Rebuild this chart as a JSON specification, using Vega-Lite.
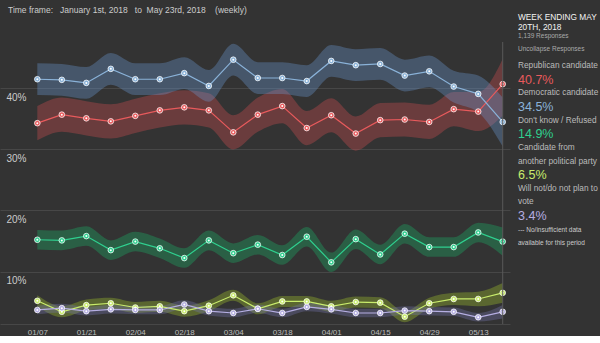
{
 "$schema": "https://vega.github.io/schema/vega-lite/v6.json",
 "background": "#333333",
 "padding": {"top": 6, "left": 0, "right": 0, "bottom": 0},
 "spacing": 8,
 "config": {"view": {"stroke": null}, "font": "Liberation Sans"},
 "datasets": {
  "poll": [
   {"d":"2018-01-07T00:00","s":"rep","v":34.3,"lo":31.5,"hi":37.1},
   {"d":"2018-01-14T00:00","s":"rep","v":35.7,"lo":32.9,"hi":38.5},
   {"d":"2018-01-21T00:00","s":"rep","v":35.1,"lo":32.3,"hi":37.9},
   {"d":"2018-01-28T00:00","s":"rep","v":34.6,"lo":31.8,"hi":37.4},
   {"d":"2018-02-04T00:00","s":"rep","v":35.5,"lo":32.7,"hi":38.3},
   {"d":"2018-02-11T00:00","s":"rep","v":36.4,"lo":33.6,"hi":39.2},
   {"d":"2018-02-18T00:00","s":"rep","v":36.9,"lo":34.1,"hi":39.7},
   {"d":"2018-02-25T00:00","s":"rep","v":36.4,"lo":33.6,"hi":39.2},
   {"d":"2018-03-04T00:00","s":"rep","v":32.8,"lo":30.0,"hi":35.6},
   {"d":"2018-03-11T00:00","s":"rep","v":35.7,"lo":32.9,"hi":38.5},
   {"d":"2018-03-18T00:00","s":"rep","v":37.1,"lo":34.3,"hi":39.9},
   {"d":"2018-03-25T00:00","s":"rep","v":33.5,"lo":30.7,"hi":36.3},
   {"d":"2018-04-01T00:00","s":"rep","v":35.6,"lo":32.8,"hi":38.4},
   {"d":"2018-04-08T00:00","s":"rep","v":32.6,"lo":29.8,"hi":35.4},
   {"d":"2018-04-15T00:00","s":"rep","v":34.8,"lo":32.0,"hi":37.6},
   {"d":"2018-04-22T00:00","s":"rep","v":34.9,"lo":32.1,"hi":37.7},
   {"d":"2018-04-29T00:00","s":"rep","v":34.5,"lo":31.7,"hi":37.3},
   {"d":"2018-05-06T00:00","s":"rep","v":36.6,"lo":33.8,"hi":39.4},
   {"d":"2018-05-13T00:00","s":"rep","v":36.2,"lo":33.0,"hi":39.4},
   {"d":"2018-05-20T00:00","s":"rep","v":40.7,"lo":35.5,"hi":44.8},
   {"d":"2018-01-07T00:00","s":"dem","v":41.5,"lo":38.9,"hi":44.1},
   {"d":"2018-01-14T00:00","s":"dem","v":41.4,"lo":38.8,"hi":44.0},
   {"d":"2018-01-21T00:00","s":"dem","v":40.9,"lo":38.3,"hi":43.5},
   {"d":"2018-01-28T00:00","s":"dem","v":43.2,"lo":40.6,"hi":45.8},
   {"d":"2018-02-04T00:00","s":"dem","v":41.5,"lo":38.9,"hi":44.1},
   {"d":"2018-02-11T00:00","s":"dem","v":41.5,"lo":38.9,"hi":44.1},
   {"d":"2018-02-18T00:00","s":"dem","v":42.5,"lo":39.9,"hi":45.1},
   {"d":"2018-02-25T00:00","s":"dem","v":40.4,"lo":37.8,"hi":43.0},
   {"d":"2018-03-04T00:00","s":"dem","v":44.7,"lo":42.1,"hi":47.3},
   {"d":"2018-03-11T00:00","s":"dem","v":41.7,"lo":39.1,"hi":44.3},
   {"d":"2018-03-18T00:00","s":"dem","v":41.7,"lo":39.1,"hi":44.3},
   {"d":"2018-03-25T00:00","s":"dem","v":41.2,"lo":38.6,"hi":43.8},
   {"d":"2018-04-01T00:00","s":"dem","v":44.5,"lo":41.9,"hi":47.1},
   {"d":"2018-04-08T00:00","s":"dem","v":43.8,"lo":41.2,"hi":46.4},
   {"d":"2018-04-15T00:00","s":"dem","v":44.0,"lo":41.4,"hi":46.6},
   {"d":"2018-04-22T00:00","s":"dem","v":42.1,"lo":39.5,"hi":44.7},
   {"d":"2018-04-29T00:00","s":"dem","v":42.8,"lo":40.2,"hi":45.4},
   {"d":"2018-05-06T00:00","s":"dem","v":40.3,"lo":37.7,"hi":42.9},
   {"d":"2018-05-13T00:00","s":"dem","v":39.1,"lo":36.1,"hi":42.1},
   {"d":"2018-05-20T00:00","s":"dem","v":34.5,"lo":30.5,"hi":38.5},
   {"d":"2018-01-07T00:00","s":"dk","v":15.2,"lo":13.6,"hi":16.8},
   {"d":"2018-01-14T00:00","s":"dk","v":15.1,"lo":13.5,"hi":16.7},
   {"d":"2018-01-21T00:00","s":"dk","v":15.8,"lo":14.2,"hi":17.4},
   {"d":"2018-01-28T00:00","s":"dk","v":13.5,"lo":11.9,"hi":15.1},
   {"d":"2018-02-04T00:00","s":"dk","v":14.9,"lo":13.3,"hi":16.5},
   {"d":"2018-02-11T00:00","s":"dk","v":13.8,"lo":12.2,"hi":15.4},
   {"d":"2018-02-18T00:00","s":"dk","v":12.2,"lo":10.6,"hi":13.8},
   {"d":"2018-02-25T00:00","s":"dk","v":15.1,"lo":13.5,"hi":16.7},
   {"d":"2018-03-04T00:00","s":"dk","v":13.0,"lo":11.4,"hi":14.6},
   {"d":"2018-03-11T00:00","s":"dk","v":14.4,"lo":12.8,"hi":16.0},
   {"d":"2018-03-18T00:00","s":"dk","v":12.7,"lo":11.1,"hi":14.3},
   {"d":"2018-03-25T00:00","s":"dk","v":15.7,"lo":14.1,"hi":17.3},
   {"d":"2018-04-01T00:00","s":"dk","v":11.5,"lo":9.9,"hi":13.1},
   {"d":"2018-04-08T00:00","s":"dk","v":15.3,"lo":13.7,"hi":16.9},
   {"d":"2018-04-15T00:00","s":"dk","v":12.8,"lo":11.2,"hi":14.4},
   {"d":"2018-04-22T00:00","s":"dk","v":16.2,"lo":14.6,"hi":17.8},
   {"d":"2018-04-29T00:00","s":"dk","v":14.0,"lo":12.4,"hi":15.6},
   {"d":"2018-05-06T00:00","s":"dk","v":14.0,"lo":12.4,"hi":15.6},
   {"d":"2018-05-13T00:00","s":"dk","v":16.4,"lo":14.8,"hi":18.0},
   {"d":"2018-05-20T00:00","s":"dk","v":14.9,"lo":12.6,"hi":17.2},
   {"d":"2018-01-07T00:00","s":"other","v":5.2,"lo":4.3,"hi":6.1},
   {"d":"2018-01-14T00:00","s":"other","v":3.4,"lo":2.5,"hi":4.3},
   {"d":"2018-01-21T00:00","s":"other","v":4.5,"lo":3.6,"hi":5.4},
   {"d":"2018-01-28T00:00","s":"other","v":4.8,"lo":3.9,"hi":5.7},
   {"d":"2018-02-04T00:00","s":"other","v":4.1,"lo":3.2,"hi":5.0},
   {"d":"2018-02-11T00:00","s":"other","v":4.3,"lo":3.4,"hi":5.2},
   {"d":"2018-02-18T00:00","s":"other","v":3.5,"lo":2.6,"hi":4.4},
   {"d":"2018-02-25T00:00","s":"other","v":4.4,"lo":3.5,"hi":5.3},
   {"d":"2018-03-04T00:00","s":"other","v":6.1,"lo":5.2,"hi":7.0},
   {"d":"2018-03-11T00:00","s":"other","v":3.9,"lo":3.0,"hi":4.8},
   {"d":"2018-03-18T00:00","s":"other","v":5.1,"lo":4.2,"hi":6.0},
   {"d":"2018-03-25T00:00","s":"other","v":5.1,"lo":4.2,"hi":6.0},
   {"d":"2018-04-01T00:00","s":"other","v":4.3,"lo":3.4,"hi":5.2},
   {"d":"2018-04-08T00:00","s":"other","v":5.0,"lo":4.1,"hi":5.9},
   {"d":"2018-04-15T00:00","s":"other","v":4.9,"lo":4.0,"hi":5.8},
   {"d":"2018-04-22T00:00","s":"other","v":2.6,"lo":1.7,"hi":3.5},
   {"d":"2018-04-29T00:00","s":"other","v":4.8,"lo":3.9,"hi":5.7},
   {"d":"2018-05-06T00:00","s":"other","v":5.5,"lo":4.5,"hi":6.5},
   {"d":"2018-05-13T00:00","s":"other","v":5.5,"lo":4.3,"hi":6.7},
   {"d":"2018-05-20T00:00","s":"other","v":6.5,"lo":4.9,"hi":8.1},
   {"d":"2018-01-07T00:00","s":"wont","v":3.7,"lo":3.0,"hi":4.4},
   {"d":"2018-01-14T00:00","s":"wont","v":4.0,"lo":3.3,"hi":4.7},
   {"d":"2018-01-21T00:00","s":"wont","v":3.5,"lo":2.8,"hi":4.2},
   {"d":"2018-01-28T00:00","s":"wont","v":3.8,"lo":3.1,"hi":4.5},
   {"d":"2018-02-04T00:00","s":"wont","v":3.7,"lo":3.0,"hi":4.4},
   {"d":"2018-02-11T00:00","s":"wont","v":3.7,"lo":3.0,"hi":4.4},
   {"d":"2018-02-18T00:00","s":"wont","v":4.6,"lo":3.9,"hi":5.3},
   {"d":"2018-02-25T00:00","s":"wont","v":3.5,"lo":2.8,"hi":4.2},
   {"d":"2018-03-04T00:00","s":"wont","v":3.2,"lo":2.5,"hi":3.9},
   {"d":"2018-03-11T00:00","s":"wont","v":3.9,"lo":3.2,"hi":4.6},
   {"d":"2018-03-18T00:00","s":"wont","v":3.2,"lo":2.5,"hi":3.9},
   {"d":"2018-03-25T00:00","s":"wont","v":4.2,"lo":3.5,"hi":4.9},
   {"d":"2018-04-01T00:00","s":"wont","v":3.8,"lo":3.1,"hi":4.5},
   {"d":"2018-04-08T00:00","s":"wont","v":3.2,"lo":2.5,"hi":3.9},
   {"d":"2018-04-15T00:00","s":"wont","v":3.2,"lo":2.5,"hi":3.9},
   {"d":"2018-04-22T00:00","s":"wont","v":3.6,"lo":2.9,"hi":4.3},
   {"d":"2018-04-29T00:00","s":"wont","v":3.5,"lo":2.8,"hi":4.2},
   {"d":"2018-05-06T00:00","s":"wont","v":3.4,"lo":2.7,"hi":4.1},
   {"d":"2018-05-13T00:00","s":"wont","v":2.5,"lo":1.8,"hi":3.2},
   {"d":"2018-05-20T00:00","s":"wont","v":3.4,"lo":2.3,"hi":4.5}
  ],
  "legend": [
   {"line":0,"role":"label","s":"rep","text":"Republican candidate"},
   {"line":1,"role":"value","s":"rep","text":"40.7%"},
   {"line":2,"role":"label","s":"dem","text":"Democratic candidate"},
   {"line":3,"role":"value","s":"dem","text":"34.5%"},
   {"line":4,"role":"label","s":"dk","text":"Don't know / Refused"},
   {"line":5,"role":"value","s":"dk","text":"14.9%"},
   {"line":6,"role":"label","s":"other","text":"Candidate from"},
   {"line":7,"role":"label","s":"other","text":"another political party"},
   {"line":8,"role":"value","s":"other","text":"6.5%"},
   {"line":9,"role":"label","s":"wont","text":"Will not/do not plan to"},
   {"line":10,"role":"label","s":"wont","text":"vote"},
   {"line":11,"role":"value","s":"wont","text":"3.4%"},
   {"line":12,"role":"note","s":"none","text":"--- No/insufficient data"},
   {"line":13,"role":"note","s":"none","text":"available for this period"}
  ]
 },
 "hconcat": [
  {
   "width": 510,
   "height": 282,
   "title": {"text": "Time frame:\u00a0\u00a0\u00a0January 1st, 2018\u00a0\u00a0\u00a0to\u00a0\u00a0May 23rd, 2018\u00a0\u00a0\u00a0\u00a0(weekly)", "anchor": "start", "frame": "group", "dx": 8, "fontSize": 8.5, "fontWeight": "normal", "color": "#cccccc", "offset": 27},
   "data": {"name": "poll"},
   "layer": [
    {
     "mark": {"type": "area", "interpolate": "monotone", "opacity": 0.35},
     "encoding": {
      "x": {"field": "d", "type": "temporal", "scale": {"domain": [{"year": 2017, "month": 12, "date": 27, "hours": 8}, {"year": 2018, "month": 5, "date": 22, "hours": 2}]},
       "axis": {"values": [{"year":2018,"month":1,"date":7},{"year":2018,"month":1,"date":21},{"year":2018,"month":2,"date":4},{"year":2018,"month":2,"date":18},{"year":2018,"month":3,"date":4},{"year":2018,"month":3,"date":18},{"year":2018,"month":4,"date":1},{"year":2018,"month":4,"date":15},{"year":2018,"month":4,"date":29},{"year":2018,"month":5,"date":13}], "format": "%m/%d", "labelColor": "#bbbbbb", "labelFontSize": 8, "ticks": false, "tickSize": 0, "labelPadding": 4, "domain": true, "domainColor": "#474747", "grid": false, "title": null, "labelFlush": false, "labelOverlap": false}},
      "y": {"field": "lo", "type": "quantitative", "scale": {"domain": [1.4, 47.6], "nice": false, "zero": false},
       "axis": {"values": [10, 20, 30, 40], "labelExpr": "datum.value + '%'", "grid": true, "gridColor": "#474747", "domain": false, "ticks": false, "tickSize": 0, "labelAlign": "left", "labelBaseline": "top", "labelPadding": -6, "labelOffset": 4, "labelColor": "#cccccc", "labelFontSize": 10, "title": null, "minExtent": 0, "labelFlush": false}},
      "y2": {"field": "hi"},
      "fill": {"field": "s", "type": "nominal", "scale": {"domain": ["rep", "dem", "dk", "other", "wont"], "range": ["#d04d50", "#6997d0", "#19b166", "#a2c52a", "#7575ae"]}, "legend": null}
     }
    },
    {
     "mark": {"type": "line", "strokeWidth": 1.2},
     "encoding": {
      "x": {"field": "d", "type": "temporal"},
      "y": {"field": "v", "type": "quantitative"},
      "color": {"field": "s", "type": "nominal", "scale": {"domain": ["rep", "dem", "dk", "other", "wont"], "range": ["#e85a5c", "#8ab2d8", "#2fd08f", "#c9ec6c", "#b5aee2"]}, "legend": null}
     }
    },
    {
     "mark": {"type": "point", "filled": true, "size": 32, "stroke": "#ffffff", "strokeWidth": 1, "strokeOpacity": 0.75, "opacity": 1},
     "encoding": {
      "x": {"field": "d", "type": "temporal"},
      "y": {"field": "v", "type": "quantitative"},
      "color": {"field": "s", "type": "nominal", "legend": null}
     }
    },
    {
     "mark": {"type": "point", "filled": true, "size": 4, "color": "#ffffff", "opacity": 1},
     "encoding": {
      "x": {"field": "d", "type": "temporal"},
      "y": {"field": "v", "type": "quantitative"}
     }
    },
    {
     "data": {"values": [{"d": "2018-05-20T00:00"}]},
     "mark": {"type": "rule", "color": "#5a5a5a", "strokeWidth": 1},
     "encoding": {"x": {"field": "d", "type": "temporal"}}
    }
   ]
  },
  {
   "width": 82,
   "height": 225,
   "title": {"text": ["WEEK ENDING MAY", "20TH, 2018"], "subtitle": ["1,139 Responses", "Uncollapse Responses"], "anchor": "start", "frame": "group", "fontSize": 8.3, "fontWeight": "normal", "color": "#f4f4f4", "lineHeight": 9.5, "subtitleFontSize": 6.5, "subtitleColor": "#aaaaaa", "subtitleLineHeight": 12.5, "subtitlePadding": 2, "offset": -10},
   "data": {"name": "legend"},
   "encoding": {
    "y": {"field": "line", "type": "quantitative", "scale": {"domain": [-1.777, 14.743], "reverse": true, "nice": false, "zero": false}, "axis": null},
    "x": {"datum": 0, "type": "quantitative", "scale": {"domain": [0, 1]}, "axis": null},
    "text": {"field": "text"}
   },
   "layer": [
    {"transform": [{"filter": "datum.role === 'label'"}], "mark": {"type": "text", "align": "left", "baseline": "middle", "fontSize": 8.3, "color": "#bbbbbb"}},
    {"transform": [{"filter": "datum.role === 'value'"}], "mark": {"type": "text", "align": "left", "baseline": "middle", "fontSize": 12.5},
     "encoding": {"color": {"field": "s", "type": "nominal", "scale": {"domain": ["rep", "dem", "dk", "other", "wont"], "range": ["#e85a5c", "#8ab2d8", "#2fd08f", "#c9ec6c", "#b5aee2"]}, "legend": null}}},
    {"transform": [{"filter": "datum.role === 'note'"}], "mark": {"type": "text", "align": "left", "baseline": "middle", "fontSize": 6.5, "color": "#cccccc"}}
   ]
  }
 ]
}
